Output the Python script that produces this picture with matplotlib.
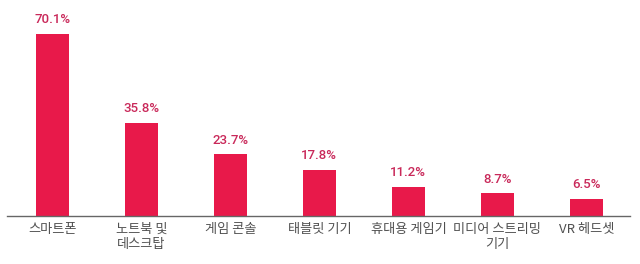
import matplotlib.pyplot as plt

plt.rcParams['font.family'] = ['Noto Sans CJK KR', 'DejaVu Sans']

# 데이터
categories = ["스마트폰", "노트북 및\n데스크탑", "게임 콘솔", "태블릿 기기",
              "휴대용 게임기", "미디어 스트리밍\n기기", "VR 헤드셋"]
values = [70.1, 35.8, 23.7, 17.8, 11.2, 8.7, 6.5]

bar_color = "#e8194a"
label_color = "#c9295a"
text_color = "#505050"

fig = plt.figure(figsize=(6.4, 2.64), dpi=100)
ax = fig.add_axes([7 / 640, 48 / 264, 623 / 640, 216 / 264])

x = list(range(len(categories)))
ax.bar(x, values, width=0.37, color=bar_color)

for xi, v in zip(x, values):
    ax.text(xi, v + 3.0, f"{v}%", ha="center", va="bottom",
            color=label_color, fontsize=9.5, fontweight="medium",
            family=["Roboto", "DejaVu Sans"])

ax.set_xlim(-0.51, 6.49)
ax.set_ylim(0, 83.2)

ax.set_xticks(x)
ax.set_xticklabels(categories, color=text_color, fontsize=9.5, linespacing=1.25)
ax.tick_params(axis="x", length=0, pad=5)
ax.set_yticks([])

for s in ["top", "right", "left"]:
    ax.spines[s].set_visible(False)
ax.spines["bottom"].set_color("#666666")
ax.spines["bottom"].set_linewidth(1)

fig.savefig("out.png", dpi=100)
